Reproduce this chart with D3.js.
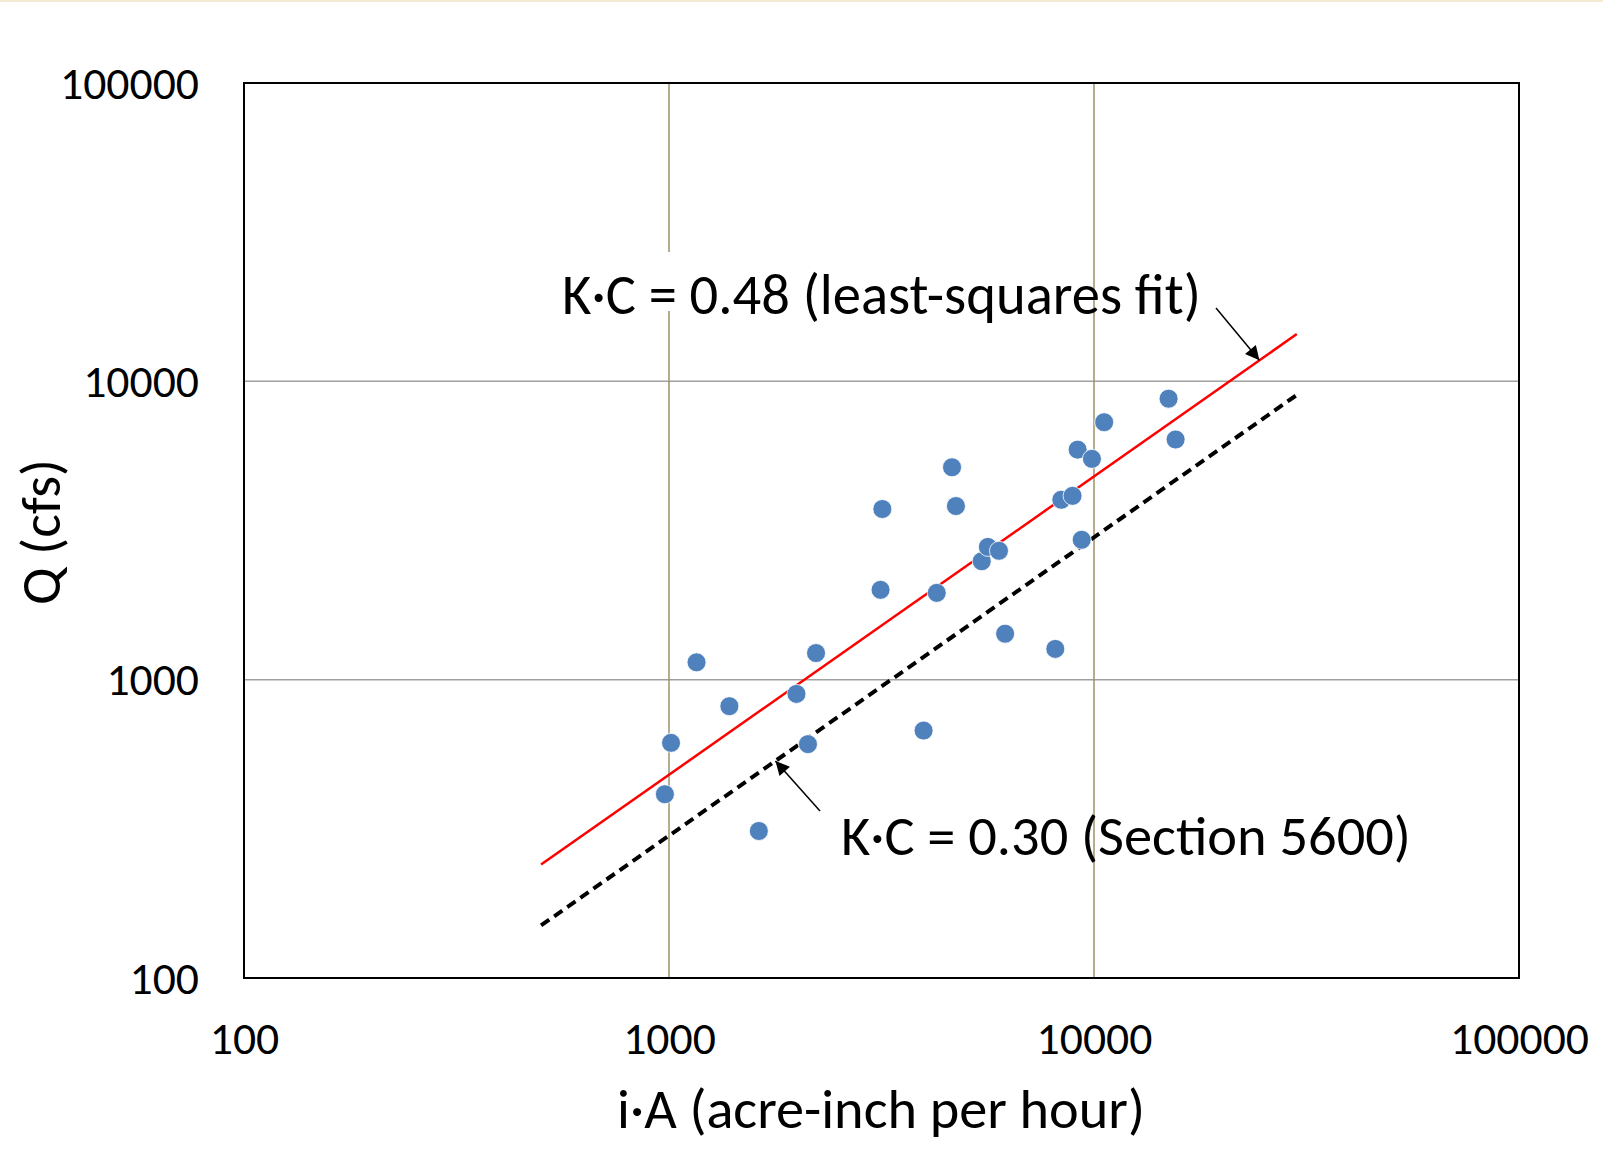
<!DOCTYPE html>
<html>
<head>
<meta charset="utf-8">
<script src="https://cdn.jsdelivr.net/npm/d3@7"></script>
<style>
  html, body { margin: 0; padding: 0; background: #fff; }
  svg text { font-family: Carlito, Calibri, Lato, "Open Sans", sans-serif; fill: #000; }
</style>
</head>
<body>
<svg id="chart" width="1603" height="1163"></svg>
<script>
// ---- data ----
const iA = [1011, 978, 1161, 1387, 1627, 1995, 2123, 2218, 3146, 3177, 3972, 4266, 4634, 4733,
            5443, 5627, 5976, 6178, 8108, 8378, 8903, 9152, 9355, 9889, 10566, 14980, 15560];
const Q  = [614, 413, 1143, 815, 311, 896, 608, 1228, 2000, 3732, 675, 1954, 5151, 3819,
            2494, 2786, 2704, 1426, 1268, 4010, 4132, 5903, 2944, 5497, 7293, 8748, 6383];
const xTicks = [100, 1000, 10000, 100000];
const yTicks = [100, 1000, 10000, 100000];
const xGrid = [1000, 10000];
const yGrid = [1000, 10000];
const lineRange = [500, 30000];
const kcFit = 0.48;
const kcSection = 0.30;
const labelFit = "K·C = 0.48 (least-squares fit)";
const labelSection = "K·C = 0.30 (Section 5600)";
const xTitle = "i·A (acre-inch per hour)";
const yTitle = "Q (cfs)";

// ---- layout ----
const svg = d3.select("#chart");
const L = 244, R = 1519, T = 83, B = 978;
const x = d3.scaleLog().domain([100, 100000]).range([L, R]);
const y = d3.scaleLog().domain([100, 100000]).range([B, T]);

function fit(sel, w) {
  sel.attr("font-size", 40);
  const len = sel.node().getComputedTextLength();
  sel.attr("font-size", 40 * w / len);
  return sel;
}

// top page line
svg.append("rect").attr("x", 0).attr("y", 0).attr("width", 1603).attr("height", 2).attr("fill", "#f5ead2");

// gridlines
svg.append("g").selectAll("line").data(yGrid).join("line")
  .attr("x1", L).attr("x2", R).attr("y1", d => y(d)).attr("y2", d => y(d))
  .attr("stroke", "#a0a0a0").attr("stroke-width", 1.5);
svg.append("g").selectAll("line").data(xGrid).join("line")
  .attr("y1", T).attr("y2", B).attr("x1", d => x(d)).attr("x2", d => x(d))
  .attr("stroke", "#9c9266").attr("stroke-width", 1.5);

// white box behind the fit label
svg.append("rect").attr("x", 556).attr("y", 252).attr("width", 330).attr("height", 59).attr("fill", "#fff");

// plot frame
svg.append("rect").attr("x", L).attr("y", T).attr("width", R - L).attr("height", B - T)
  .attr("fill", "none").attr("stroke", "#000").attr("stroke-width", 2);

// axes tick labels via d3 axes
const xAxis = d3.axisBottom(x).tickValues(xTicks).tickFormat(d3.format("d")).tickSize(0).tickPadding(0);
const gx = svg.append("g").attr("transform", `translate(0,${B})`).call(xAxis);
gx.select(".domain").remove();
gx.selectAll("text").attr("dy", null).attr("y", 76);

const yAxis = d3.axisLeft(y).tickValues(yTicks).tickFormat(d3.format("d")).tickSize(0).tickPadding(0);
const gy = svg.append("g").attr("transform", `translate(199,0)`).call(yAxis);
gy.select(".domain").remove();
gy.selectAll("text").attr("dy", null).attr("y", 15);

// normalise tick font so "100000" is ~139px wide
(function(){
  const t = gy.selectAll("text").filter(d => d === 100000);
  fit(t, 139);
  const fs = +t.attr("font-size");
  gx.selectAll("text").attr("font-size", fs).attr("fill", "#000");
  gy.selectAll("text").attr("font-size", fs).attr("fill", "#000");
})();

// lines
const lineGen = d3.line().x(d => x(d[0])).y(d => y(d[1]));
svg.append("path").datum(lineRange.map(v => [v, kcSection * v]))
  .attr("d", lineGen).attr("fill", "none").attr("stroke", "#000")
  .attr("stroke-width", 4).attr("stroke-dasharray", "10,6");
svg.append("path").datum(lineRange.map(v => [v, kcFit * v]))
  .attr("d", lineGen).attr("fill", "none").attr("stroke", "#ff0000").attr("stroke-width", 2.5);

// points
svg.append("g").selectAll("circle").data(iA.map((v, i) => [v, Q[i]])).join("circle")
  .attr("cx", d => x(d[0])).attr("cy", d => y(d[1])).attr("r", 9.5)
  .attr("fill", "#4f81bd").attr("stroke", "#fff").attr("stroke-width", 0.8);

// arrows
const defs = svg.append("defs");
defs.append("marker").attr("id", "ah").attr("viewBox", "0 0 10 10").attr("refX", 10).attr("refY", 5)
  .attr("markerWidth", 17).attr("markerHeight", 14).attr("markerUnits", "userSpaceOnUse")
  .attr("orient", "auto").append("path").attr("d", "M0,0 L10,5 L0,10 Z").attr("fill", "#000");

const tip1 = [24500, kcFit * 24500];
const tip2 = [1780, kcSection * 1780];
svg.append("line").attr("x1", 1216).attr("y1", 308).attr("x2", x(tip1[0])).attr("y2", y(tip1[1]))
  .attr("stroke", "#000").attr("stroke-width", 1.5).attr("marker-end", "url(#ah)");
svg.append("line").attr("x1", 820).attr("y1", 811).attr("x2", x(tip2[0])).attr("y2", y(tip2[1]))
  .attr("stroke", "#000").attr("stroke-width", 1.5).attr("marker-end", "url(#ah)");

// annotation labels
fit(svg.append("text").attr("x", 562).attr("y", 314).text(labelFit), 639);
fit(svg.append("text").attr("x", 841).attr("y", 855).text(labelSection), 570);

// axis titles
fit(svg.append("text").attr("x", 881).attr("y", 1128).attr("text-anchor", "middle").text(xTitle), 528);
fit(svg.append("text").attr("transform", "translate(60,532) rotate(-90)").attr("text-anchor", "middle").text(yTitle), 146);
</script>
</body>
</html>
